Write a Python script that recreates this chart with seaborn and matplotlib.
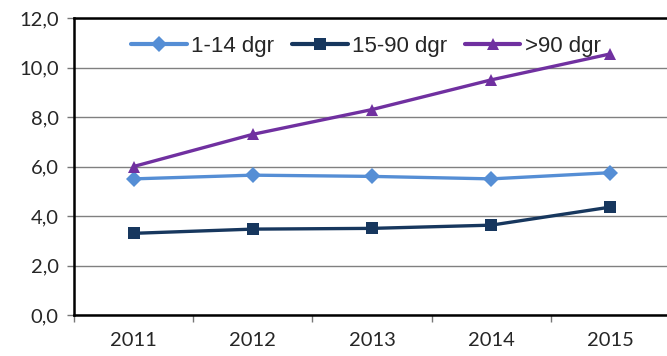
import numpy as np
import pandas as pd
import matplotlib
matplotlib.use("Agg")
import matplotlib.pyplot as plt
import seaborn as sns
from matplotlib.ticker import FixedLocator

years = ["2011", "2012", "2013", "2014", "2015"]
series_names = ["1-14 dgr", "15-90 dgr", ">90 dgr"]
vals_1_14 = [5.5, 5.65, 5.6, 5.5, 5.75]
vals_15_90 = [3.3, 3.47, 3.5, 3.63, 4.36]
vals_90 = [6.0, 7.3, 8.3, 9.5, 10.55]
colors = ["#558ED5", "#17375E", "#7030A0"]
markers = ["D", "s", "^"]

rows = []
for name, vals in zip(series_names, [vals_1_14, vals_15_90, vals_90]):
    for i, v in enumerate(vals):
        rows.append({"pos": i, "year": years[i], "value": v, "serie": name})
df = pd.DataFrame(rows)

sns.set_style("white")
plt.rcParams["font.family"] = ["Lato", "DejaVu Sans"]

fig = plt.figure(figsize=(6.67, 3.56), dpi=100)
ax = fig.add_axes([74 / 667, 41 / 356, 596 / 667, 297 / 356])

sns.lineplot(data=df, x="pos", y="value", hue="serie", style="serie",
             markers=markers, dashes=False, palette=colors, linewidth=2.4,
             markersize=8, markeredgewidth=0, ax=ax, zorder=3)

ax.set_ylim(0, 12)
ax.set_xlim(-0.5, 4.5)
ax.set_yticks(np.arange(0, 12.1, 2))
ax.set_yticklabels([f"{t:.1f}".replace(".", ",") for t in np.arange(0, 12.1, 2)])
ax.set_xticks(range(len(years)))
ax.set_xticklabels(years)
ax.xaxis.set_minor_locator(FixedLocator(np.arange(-0.5, 4.6, 1)))
ax.tick_params(axis="x", which="major", length=0, pad=12, labelsize=14.5)
ax.tick_params(axis="x", which="minor", length=5, width=1, color="#777777", direction="out", bottom=True)
ax.tick_params(axis="y", length=5, width=1, color="#777777", direction="out", left=True, labelsize=14.5, pad=6)
ax.yaxis.grid(True, color="#808080", linewidth=1)
ax.set_axisbelow(True)
ax.set_xlabel("")
ax.set_ylabel("")
for side in ["left", "bottom", "top"]:
    ax.spines[side].set_color("black")
    ax.spines[side].set_linewidth(1.8)
ax.spines["right"].set_visible(False)

leg = ax.legend(loc="center", bbox_to_anchor=(0.49, 0.905), ncol=3, frameon=False,
                handlelength=2.5, columnspacing=0.8, handletextpad=0.2,
                borderpad=0, prop={"family": "Liberation Sans", "size": 16})
leg.set_zorder(1)
for h in leg.legend_handles:
    h.set_markersize(8)
    h.set_linewidth(3)

fig.savefig("out.png", dpi=100)
